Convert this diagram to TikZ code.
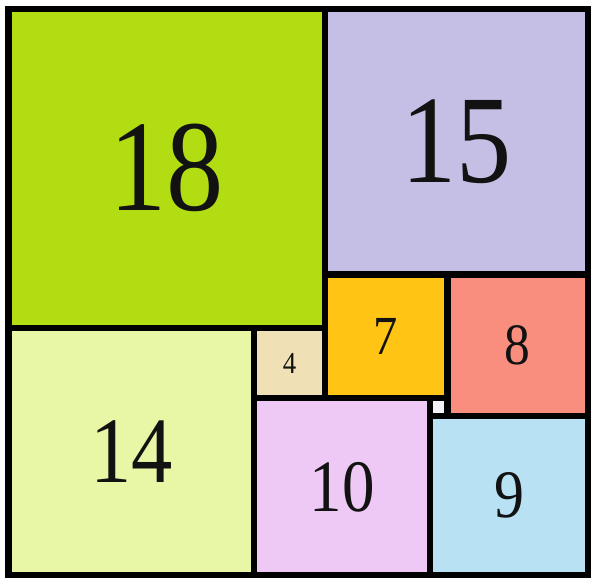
\documentclass[tikz,border=0pt]{standalone}
\usepackage{fontspec}
\setmainfont{Liberation Serif}
\definecolor{ink}{HTML}{121212}
\definecolor{sqlime}{HTML}{B2DD13}
\definecolor{sqlilac}{HTML}{C5BFE6}
\definecolor{sqcream}{HTML}{E8F7A6}
\definecolor{sqwheat}{HTML}{F0E0B5}
\definecolor{sqamber}{HTML}{FFC414}
\definecolor{sqsalmon}{HTML}{FA8E7E}
\definecolor{sqpink}{HTML}{EEC9F5}
\definecolor{sqsky}{HTML}{B8E2F4}
\definecolor{sqwhite}{HTML}{F2F2F8}
\tikzset{
  tile/.style={draw=black,line width=5.2pt,line join=miter},
  numlabel/.style={text=ink,inner sep=0pt}
}
\begin{document}
\begin{tikzpicture}[x=0.5268cm,y=-0.531cm]
  \useasboundingbox (-0.484,-0.508) rectangle (33.23,32.15);
  % the eight labelled squares: corner x / corner y / side / fill / font size
  \foreach \x/\y/\s/\c/\f in {0/0/18/sqlime/111,18/0/15/sqlilac/107,
      0/18/14/sqcream/80,14/18/4/sqwheat/26,18/15/7/sqamber/47,
      25/15/8/sqsalmon/50,14/22/10/sqpink/63,24/23/9/sqsky/58} {
    \filldraw[tile,fill=\c] (\x,\y) rectangle ++(\s,\s);
    \node[numlabel,font=\fontsize{\f}{\f}\selectfont] (sq\s) at (\x+\s/2,\y+\s/2) {\scalebox{0.88}[1]{\s}};
  }
  % the unit square, no label
  \filldraw[tile,fill=sqwhite] (24,22) rectangle ++(1,1);
\end{tikzpicture}
\end{document}
